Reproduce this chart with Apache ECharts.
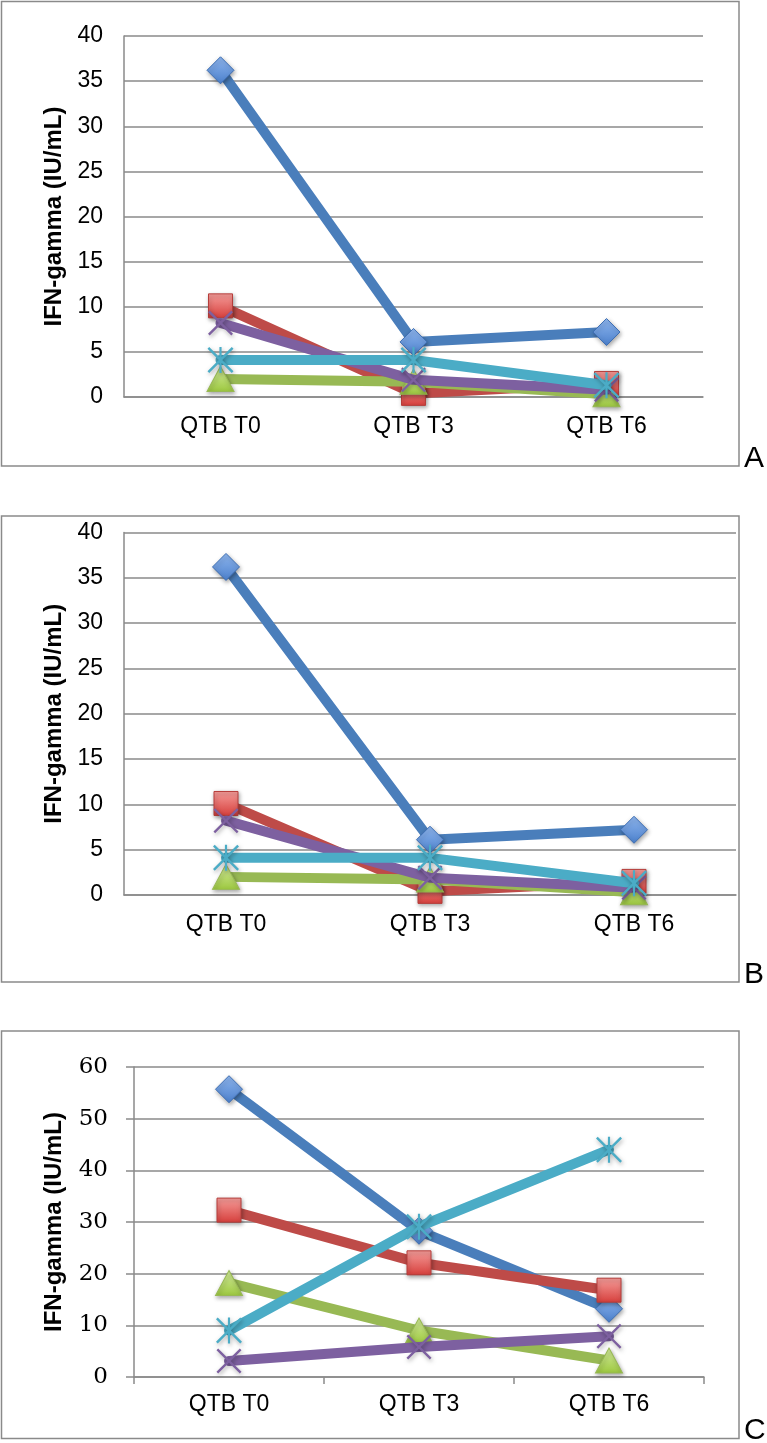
<!DOCTYPE html>
<html>
<head>
<meta charset="utf-8">
<script src="https://cdn.jsdelivr.net/npm/echarts@6/dist/echarts.min.js"></script>
<style>
html,body{margin:0;padding:0;background:#fff;}
#chart{width:767px;height:1443px;}
</style>
</head>
<body>
<div id="chart"></div>
<script>
// ---- data ----
var categories = ['QTB T0', 'QTB T3', 'QTB T6'];
// Panels A and B (same values)
var ab_s1 = [36.2, 6.1, 7.2];
var ab_s2 = [10.1, 0.4, 1.5];
var ab_s3 = [2.0, 1.7, 0.3];
var ab_s4 = [8.2, 1.9, 0.8];
var ab_s5 = [4.1, 4.1, 1.3];
// Panel C
var c_s1 = [55.7, 28.3, 13.2];
var c_s2 = [32.3, 22.1, 16.8];
var c_s3 = [18.2, 9.0, 3.2];
var c_s4 = [3.1, 5.8, 7.9];
var c_s5 = [9.0, 29.1, 44.0];
var yTicksAB = [0, 5, 10, 15, 20, 25, 30, 35, 40];
var yTicksC = [0, 10, 20, 30, 40, 50, 60];
var yName = 'IFN-gamma (IU/mL)';
var panelLetters = ['A', 'B', 'C'];

// ---- styles ----
var SANS = "'Liberation Sans', Arial, sans-serif";
var GRID = '#8a8a8a';
function grad(top, bottom) {
  return new echarts.graphic.LinearGradient(0, 0, 0, 1, [
    {offset: 0, color: top}, {offset: 1, color: bottom}
  ]);
}
var xPath = 'path://M0,1.6 L1.6,0 L12,10.4 L22.4,0 L24,1.6 L13.6,12 L24,22.4 L22.4,24 L12,13.6 L1.6,24 L0,22.4 L10.4,12 Z';
var starPath = 'path://M0,1.6 L1.6,0 L12,10.4 L22.4,0 L24,1.6 L13.6,12 L24,22.4 L22.4,24 L12,13.6 L1.6,24 L0,22.4 L10.4,12 Z M11,0 L13,0 L13,24 L11,24 Z';
var shadow = {shadowBlur: 4, shadowColor: 'rgba(0,0,0,0.35)', shadowOffsetX: 1, shadowOffsetY: 2};
var seriesStyles = [
  {line: '#4A7EBB', symbol: 'diamond', size: [27, 27], item: Object.assign({color: grad('#8fb6ee', '#4b80cc'), borderColor: '#3e6fb4', borderWidth: 1}, shadow)},
  {line: '#BE4B48', symbol: 'rect', size: [24, 24], item: Object.assign({color: grad('#f59d9a', '#d63f3c'), borderColor: '#b63d3a', borderWidth: 1}, shadow)},
  {line: '#98B954', symbol: 'triangle', size: [27, 25], item: Object.assign({color: grad('#d6ee9f', '#9cc73f'), borderColor: '#98b954', borderWidth: 1}, shadow)},
  {line: '#7D60A0', symbol: xPath, size: [25, 25], item: Object.assign({color: '#7D60A0'}, shadow)},
  {line: '#4BACC6', symbol: starPath, size: [26, 26], item: Object.assign({color: '#4BACC6'}, shadow)}
];

function makeSeries(dataArr, idx) {
  return dataArr.map(function (d, i) {
    var st = seriesStyles[i];
    return {
      type: 'line',
      xAxisIndex: idx, yAxisIndex: idx,
      data: d,
      symbol: st.symbol,
      symbolSize: st.size,
      showAllSymbol: true,
      lineStyle: {color: st.line, width: 10, cap: 'round', join: 'round'},
      itemStyle: st.item,
      emphasis: {disabled: true},
      animation: false,
      z: 2 + i
    };
  });
}

var grids = [
  {left: 124, top: 36, width: 579, height: 361},
  {left: 124, top: 532.5, width: 612, height: 362.5},
  {left: 134, top: 1067, width: 570, height: 310}
];

function xAxis(idx, showTick, margin) {
  return {
    type: 'category', gridIndex: idx, data: categories, boundaryGap: true,
    axisLine: {show: true, lineStyle: {color: GRID, width: 1.5}},
    axisTick: {show: showTick, length: 7, alignWithLabel: false, lineStyle: {color: GRID, width: 1.5}},
    axisLabel: {fontFamily: SANS, fontSize: 23, color: '#000', margin: margin},
    splitLine: {show: false}
  };
}
function yAxis(idx, ticks, opts) {
  return {
    type: 'value', gridIndex: idx, min: ticks[0], max: ticks[ticks.length - 1],
    interval: ticks[1] - ticks[0],
    name: yName, nameLocation: 'middle', nameRotate: 90, nameGap: opts.nameGap,
    nameTextStyle: {fontFamily: SANS, fontSize: 24, fontWeight: 'bold', color: '#000'},
    axisLine: {show: true, lineStyle: {color: GRID, width: 1.5}},
    axisTick: {show: opts.tick, length: 8, lineStyle: {color: GRID, width: 1.5}},
    axisLabel: {fontFamily: opts.font, fontSize: opts.fontSize, color: '#000', margin: opts.margin},
    splitLine: {show: true, lineStyle: {color: GRID, width: 1.5}}
  };
}

var boxes = [
  {y: 1.5, h: 464.5, ly: 459},
  {y: 516, h: 466, ly: 975},
  {y: 1031, h: 407.5, ly: 1431}
];
var graphics = [];
boxes.forEach(function (b, i) {
  graphics.push({type: 'rect', shape: {x: 1.5, y: b.y, width: 737.5, height: b.h},
    style: {fill: 'none', stroke: GRID, lineWidth: 1.5}, z: 0, silent: true});
  graphics.push({type: 'text', x: 744, y: b.ly,
    style: {text: panelLetters[i], font: '30px ' + SANS, fill: '#000', textVerticalAlign: 'middle', textAlign: 'left'}, z: 10});
});

var chart = echarts.init(document.getElementById('chart'), null, {renderer: 'canvas'});
chart.setOption({
  animation: false,
  backgroundColor: '#fff',
  grid: grids,
  xAxis: [xAxis(0, false, 18), xAxis(1, false, 18), xAxis(2, true, 16)],
  yAxis: [
    yAxis(0, yTicksAB, {nameGap: 58, tick: false, font: SANS, fontSize: 23, margin: 21}),
    yAxis(1, yTicksAB, {nameGap: 58, tick: false, font: SANS, fontSize: 23, margin: 21}),
    yAxis(2, yTicksC, {nameGap: 68, tick: true, font: "'DejaVu Serif', serif", fontSize: 23, margin: 26})
  ],
  series: [].concat(
    makeSeries([ab_s1, ab_s2, ab_s3, ab_s4, ab_s5], 0),
    makeSeries([ab_s1, ab_s2, ab_s3, ab_s4, ab_s5], 1),
    makeSeries([c_s1, c_s2, c_s3, c_s4, c_s5], 2)
  ),
  graphic: graphics
});
</script>
</body>
</html>
